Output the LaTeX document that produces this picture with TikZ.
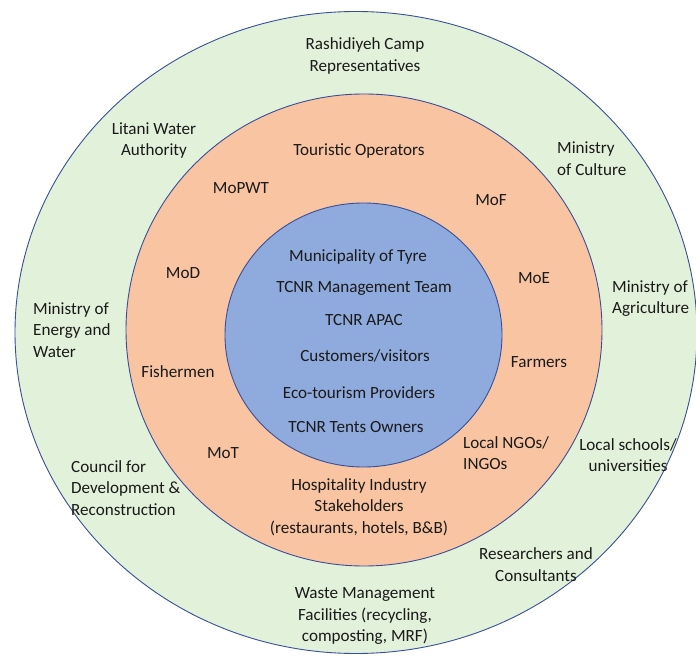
\documentclass[tikz,border=0pt]{standalone}
\usepackage{fontspec}
\setmainfont{Carlito}
\definecolor{ringgreen}{HTML}{E2F1DA}
\definecolor{ringorange}{HTML}{F8C4A2}
\definecolor{ringblue}{HTML}{8FAADC}
\definecolor{ringline}{HTML}{3A4F9A}
\definecolor{txt}{HTML}{1A1A1A}
\begin{document}
\begin{tikzpicture}[x=1pt,y=-1pt,
  ring/.style={draw=ringline,line width=0.9pt},
  lbl/.style={inner sep=0pt,text=txt,font=\fontsize{17.1}{21.5}\selectfont},
  lblc/.style={lbl,align=center},
  lbll/.style={lbl,align=left,anchor=west}]
\useasboundingbox (0,0) rectangle (696,660);
\fill[white] (0,0) rectangle (696,660);
\path[ring,fill=ringgreen] (356,332.5) ellipse [x radius=341, y radius=321];
\path[ring,fill=ringorange] (364,330) ellipse [x radius=238, y radius=236];
\path[ring,fill=ringblue] (363.5,335) ellipse [x radius=138.5, y radius=132];
% outer ring
\node[lblc] (rash) at (365,56) {Rashidiyeh Camp\\Representatives};
\node[lblc] (litani) at (154,140.5) {Litani Water\\Authority};
\node[lbll] (culture) at (557,158.5) {Ministry\\of Culture};
\node[lbll] (agri) at (612,298.5) {Ministry of\\Agriculture};
\node[lbll] (energy) at (33,330) {Ministry of\\Energy and\\Water};
\node[lblc] (schools) at (628,455) {Local schools/\\universities};
\node[lbll] (cdr) at (71,488) {Council for\\Development \&\\Reconstruction};
\node[lblc] (research) at (536,564.5) {Researchers and\\Consultants};
\node[lblc] (waste) at (365,616) {Waste Management\\Facilities (recycling,\\composting, MRF)};
% middle ring
\node[lblc] (tour) at (359,151) {Touristic Operators};
\node[lblc] (mopwt) at (241,188) {MoPWT};
\node[lblc] (mof) at (491,200) {MoF};
\node[lblc] (mod) at (183,273) {MoD};
\node[lblc] (moe) at (534,278) {MoE};
\node[lblc] (farm) at (539,362) {Farmers};
\node[lblc] (fish) at (178,372) {Fishermen};
\node[lblc] (mot) at (223,453) {MoT};
\node[lbll] (ngo) at (463,453) {Local NGOs/\\INGOs};
\node[lblc] (hosp) at (359,507) {Hospitality Industry\\Stakeholders\\(restaurants, hotels, B\&B)};
% inner circle
\node[lblc] (muni) at (358,257) {Municipality of Tyre};
\node[lblc] (mgmt) at (364,288) {TCNR Management Team};
\node[lblc] (apac) at (364,320) {TCNR APAC};
\node[lblc] (cust) at (365,356) {Customers/visitors};
\node[lblc] (eco) at (359,393) {Eco-tourism Providers};
\node[lblc] (tents) at (356,427) {TCNR Tents Owners};
\end{tikzpicture}
\end{document}
